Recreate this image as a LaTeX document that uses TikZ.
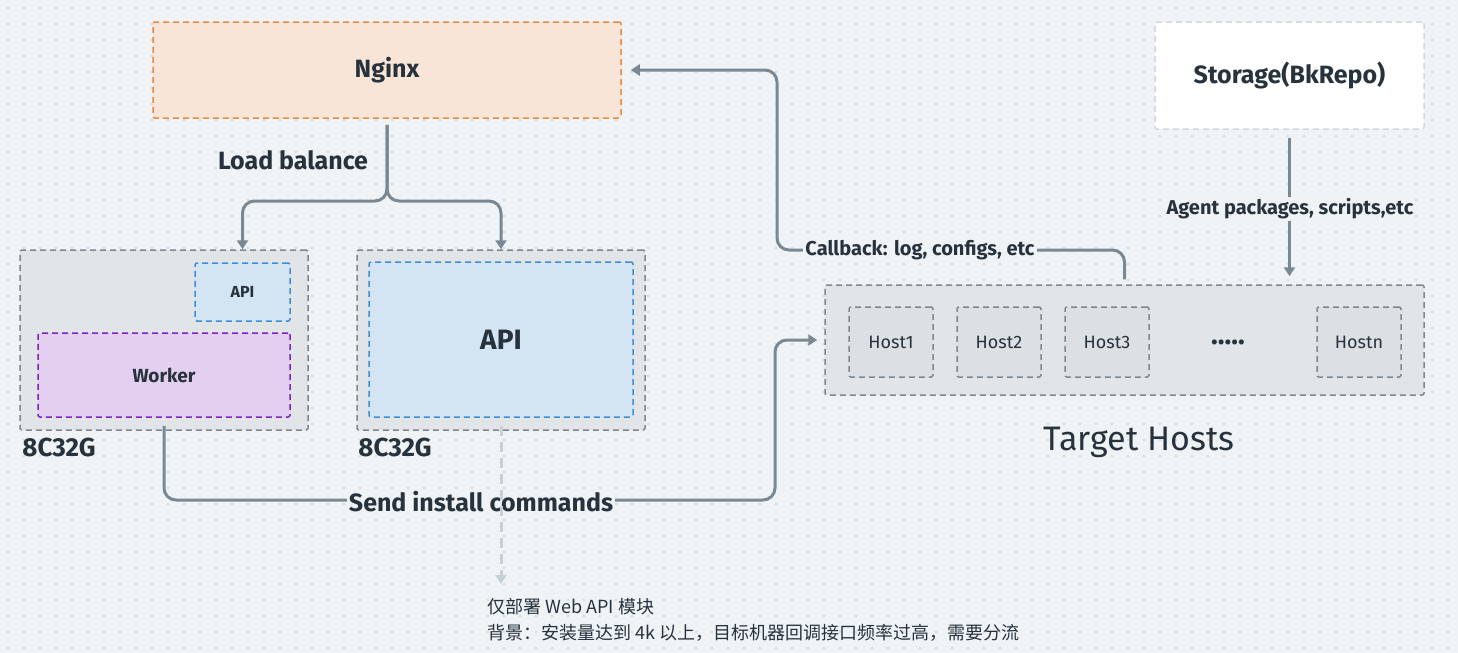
\documentclass[tikz,border=0pt]{standalone}
\usepackage{fontspec}
\setmainfont{Fira Sans}
\newfontfamily\cjk{Noto Sans CJK SC}
\usetikzlibrary{arrows.meta}

\definecolor{bg}{HTML}{F0F3F6}
\definecolor{dotc}{HTML}{CBD3DA}
\definecolor{link}{HTML}{7A8893}
\definecolor{ink}{HTML}{27323D}
\definecolor{nginxfill}{HTML}{F9E5D7}
\definecolor{nginxline}{HTML}{EB8A3E}
\definecolor{srvfill}{HTML}{E1E5E8}
\definecolor{srvline}{HTML}{7E8891}
\definecolor{apifill}{HTML}{D3E4F3}
\definecolor{apiline}{HTML}{3D8EDB}
\definecolor{wkfill}{HTML}{E3CFF0}
\definecolor{wkline}{HTML}{7E22C4}
\definecolor{hostfill}{HTML}{DCE0E3}
\definecolor{faint}{HTML}{C6D0D9}
\definecolor{storeline}{HTML}{D2D8DE}

\begin{document}
\begin{tikzpicture}[x=0.5pt,y=-0.5pt,>={Triangle[length=4.5pt,width=5.5pt]},
                    flow/.style={draw=link,line width=1.5pt,rounded corners=6pt},
                    lbl/.style={text=ink,font=\bfseries\fontsize{12.5}{14}\selectfont}]
\tikzset{BoxStyle/.style = {draw,dashed,dash pattern=on 3pt off 2pt,
                            line width=0.75pt,rounded corners=1pt,text=ink,
                            inner sep=0pt},
         HostStyle/.style = {BoxStyle,draw=srvline,fill=hostfill,
                             minimum width=42pt,minimum height=35pt,
                             font=\fontsize{9}{11}\selectfont}}
\fill[bg] (0,0) rectangle (1458,653);
\foreach \i in {0,...,90} \foreach \j in {0,...,40}
  \fill[dotc] (\i*16+8,\j*16+8) circle (0.55pt);

% boxes
\node[BoxStyle,draw=nginxline,fill=nginxfill,minimum width=234pt,minimum height=48pt,
      font=\bfseries\fontsize{12.5}{14}\selectfont] (nginx) at (387,70) {Nginx};
\node[BoxStyle,draw=srvline,fill=srvfill,minimum width=144pt,minimum height=90pt] (left) at (164,340) {};
\node[BoxStyle,draw=apiline,fill=apifill,minimum width=47.5pt,minimum height=29pt,
      font=\bfseries\fontsize{8}{10}\selectfont] (sapi) at (242.5,292) {API};
\node[BoxStyle,draw=wkline,fill=wkfill,minimum width=126pt,minimum height=42pt,
      font=\bfseries\fontsize{9.5}{11}\selectfont] (worker) at (164,375) {Worker};
\node[BoxStyle,draw=srvline,fill=srvfill,minimum width=144pt,minimum height=90pt] (right) at (501,340) {};
\node[BoxStyle,draw=apiline,fill=apifill,minimum width=132pt,minimum height=77.5pt,
      font=\bfseries\fontsize{14}{16}\selectfont] (bapi) at (501,339.5) {API};
\node[lbl,anchor=west,inner sep=0pt,font=\bfseries\fontsize{13}{15}\selectfont] (lspec) at (22,447) {8C32G};
\node[lbl,anchor=west,inner sep=0pt,font=\bfseries\fontsize{13}{15}\selectfont] (rspec) at (358,447) {8C32G};
\node[BoxStyle,draw=srvline,fill=srvfill,minimum width=299.5pt,minimum height=55pt] (hosts) at (1124.5,340) {};
\node[HostStyle] (h1) at (891,342) {Host1};
\node[HostStyle] (h2) at (999,342) {Host2};
\node[HostStyle] (h3) at (1107,342) {Host3};
\node[lbl,font=\bfseries\fontsize{14}{16}\selectfont] (more) at (1228,342) {.....};
\node[HostStyle] (hn) at (1359,342) {Hostn};
\node[text=ink,font=\fontsize{17}{20}\selectfont] (tgt) at (1139,442) {Target Hosts};
\node[BoxStyle,draw=storeline,fill=white,minimum width=134.5pt,minimum height=53.5pt,
      font=\bfseries\fontsize{12.5}{14}\selectfont] (store) at (1289.5,75.5) {Storage(BkRepo)};
\node[text=ink,anchor=north west,align=left,inner sep=0pt,font=\cjk\fontsize{9}{13}\selectfont] (note) at (487,598)
  {仅部署 Web API 模块\\背景：安装量达到 4k 以上，目标机器回调接口频率过高，需要分流};

% connectors
\coordinate (split) at (387,201);
\coordinate (bend) at (775,500);
\coordinate (cb) at (777,250);
\draw[flow,->,shorten <=3pt] (nginx.south) -- (split) -| (left.north -| sapi);
\draw[flow,->,shorten <=3pt] (nginx.south) -- (split) -| (right.north);
\node[lbl] (lb) at (293,160) {Load balance};
\draw[flow,->,shorten <=4pt,shorten >=3.5pt] (worker.south) |- (bend) |- (hosts.west);
\node[lbl,fill=bg,inner sep=1pt] (send) at (481,502) {Send install commands};
\draw[faint,line width=1.5pt,dashed,dash pattern=on 5pt off 3pt,->,shorten <=4pt,shorten >=4pt]
  (bapi.south) -- ([yshift=3pt]note.north -| bapi.south);
\draw[flow,->,shorten <=4pt,shorten >=4pt] (store.south) -- (store.south |- hosts.north);
\node[lbl,fill=bg,inner sep=1pt,font=\bfseries\fontsize{10}{12}\selectfont] (agent) at (1290,209) {Agent packages, scripts,etc};
\draw[flow,->,shorten <=2.5pt,shorten >=4.5pt] (hosts.north) |- (cb) |- (nginx.east);
\node[lbl,fill=bg,inner sep=1pt,font=\bfseries\fontsize{10}{12}\selectfont] (cbl) at (920,250) {Callback: log, configs, etc};
\end{tikzpicture}
\end{document}
